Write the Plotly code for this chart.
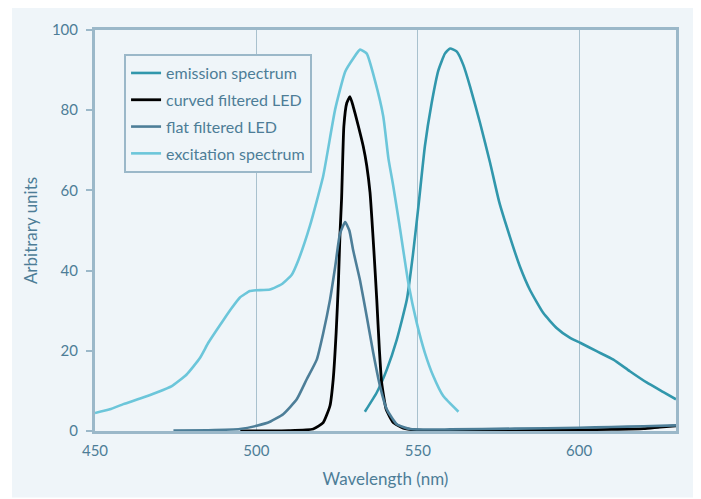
import plotly.graph_objects as go

# ---- data ----
exc_x = [450, 454.6, 458.8, 464, 469.1, 473.8, 478.4, 482.5, 485.1, 487.7, 489.8, 492.3, 494.9, 498,
         500, 504.2, 507.8, 510.9, 513, 516.6, 520.7, 524.4, 527.5, 530, 532.1, 534.2, 536.7, 539.3,
         540.9, 542.4, 544.3, 547.1, 549.7, 552.2, 554.8, 557.9, 562.6]
exc_y = [4.5, 5.4, 6.7, 8.1, 9.6, 11.2, 14.1, 18.2, 22, 25.2, 27.7, 30.6, 33.3, 34.9,
         35.1, 35.3, 36.6, 38.9, 42.6, 51.2, 63.6, 80.2, 89.6, 92.9, 95.1, 94.1, 87.5, 78.5,
         68, 61.1, 51.5, 36.8, 26.9, 19.5, 13.7, 8.7, 4.8]

em_x = [533.6, 537.3, 540.4, 543.5, 546.6, 548.5, 550.2, 552.2, 554.3, 556.4, 558.4, 560,
        562.1, 564.1, 566.2, 569.3, 572.4, 575.2, 578.6, 581.7, 584.8, 588.9, 593, 597.2, 600.3,
        605.4, 610.6, 615.7, 620.9, 626.1, 630]
em_y = [4.8, 9.6, 15.3, 22.8, 32.7, 44, 56, 71, 81.8, 90, 94.1, 95.4,
        94.6, 91.3, 85.9, 76.8, 66.9, 57.2, 48.3, 40.9, 35.1, 29.4, 25.7, 23.2, 22,
        19.9, 17.8, 14.9, 12.1, 9.7, 7.9]

curved_x = [495, 510, 517.6, 520.7, 522.8, 523.8, 524.7, 525.4, 525.9, 526.4, 527.1, 528, 529,
            530, 531.6, 533.1, 534.2, 535.2, 536.4, 537.3, 538.1, 538.8, 540.2, 542.4,
            545.5, 550, 570, 590, 600, 610, 620, 625, 630]
curved_y = [0, 0.1, 0.5, 2.1, 6.3, 12.9, 24.4, 36.8, 49.2, 58, 76, 81.8, 83.4,
            80.9, 76, 71, 66.1, 59.5, 45, 32.7, 20.3, 12.1, 5.4, 2.1,
            0.7, 0.2, 0.1, 0.2, 0.3, 0.4, 0.6, 1.0, 1.3]

flat_x = [474.3, 485, 494.9, 500.1, 504.2, 508.3, 512.5, 515.6, 518.7, 520.7, 522.8, 524.4, 525.9,
          527.5, 528.8, 530, 532.1, 534.2, 536.2, 538.3, 540.4, 543.5, 547.6, 560, 580, 600,
          610, 620, 630]
flat_y = [0.1, 0.2, 0.5, 1.3, 2.3, 4.2, 7.9, 12.9, 17.8, 24.4, 32.7, 40.9, 49.2,
          52.1, 50, 45, 37.6, 28.5, 19.5, 11.2, 5.4, 1.7, 0.5, 0.4, 0.6, 0.8,
          1.0, 1.2, 1.4]

series = [
    ("emission spectrum", em_x, em_y, "#3197ac", 2.6),
    ("curved filtered LED", curved_x, curved_y, "#000000", 2.8),
    ("flat filtered LED", flat_x, flat_y, "#4d7e98", 2.6),
    ("excitation spectrum", exc_x, exc_y, "#6cc6da", 2.6),
]

x_ticks = [450, 500, 550, 600]
y_ticks = [0, 20, 40, 60, 80, 100]

BG = "#eff5f9"
AX = "#9bb8c9"
TXT = "#4d7d97"
FONT = "Lato, 'Open Sans', sans-serif"

fig = go.Figure()
for i, (name, xs, ys, col, w) in enumerate(series):
    fig.add_trace(go.Scatter(x=xs, y=ys, mode="lines", name=name, legendgroup=f"g{i}",
                             line=dict(color=col, width=w, shape="spline", smoothing=0.45)))

# page body adds an 8px offset; figure is sized so the plot area lands where the reference's is
fig.update_layout(
    width=693, height=491,
    margin=dict(l=87, r=25, t=20, b=67),
    paper_bgcolor="white",
    plot_bgcolor=BG,
    font=dict(family=FONT, size=15, color=TXT),
    showlegend=True,
    legend=dict(x=0.05, y=0.94, xanchor="left", yanchor="top",
                bgcolor=BG, bordercolor=AX, borderwidth=2,
                font=dict(family=FONT, size=16, color=TXT),
                tracegroupgap=3, traceorder="grouped"),
    shapes=[dict(type="rect", xref="paper", yref="paper", layer="below",
                 x0=(12 - 95) / 581, x1=(701 - 95) / 581,
                 y0=(432 - 499) / 404, y1=(432 - 5) / 404,
                 fillcolor=BG, line=dict(width=0))],
)

fig.update_xaxes(range=[450, 630], tickvals=x_ticks, ticktext=[str(v) for v in x_ticks],
                 showgrid=True, gridcolor="#a9c1ce", gridwidth=1,
                 showline=True, linecolor=AX, linewidth=3, mirror=True,
                 ticks="", zeroline=False, layer="below traces", ticklabelstandoff=4,
                 title=dict(text="Wavelength (nm)", font=dict(family=FONT, size=17, color=TXT), standoff=16),
                 tickfont=dict(family=FONT, size=15, color=TXT))
fig.update_yaxes(range=[0, 100], tickvals=y_ticks, ticktext=[str(v) for v in y_ticks],
                 showgrid=False, zeroline=False,
                 showline=True, linecolor=AX, linewidth=3, mirror=True,
                 ticks="outside", ticklen=6, tickwidth=2, tickcolor=AX, layer="below traces",
                 ticklabelstandoff=5,
                 title=dict(text="Arbitrary units", font=dict(family=FONT, size=17, color=TXT), standoff=10),
                 tickfont=dict(family=FONT, size=15, color=TXT))

fig.write_html("out.html")
